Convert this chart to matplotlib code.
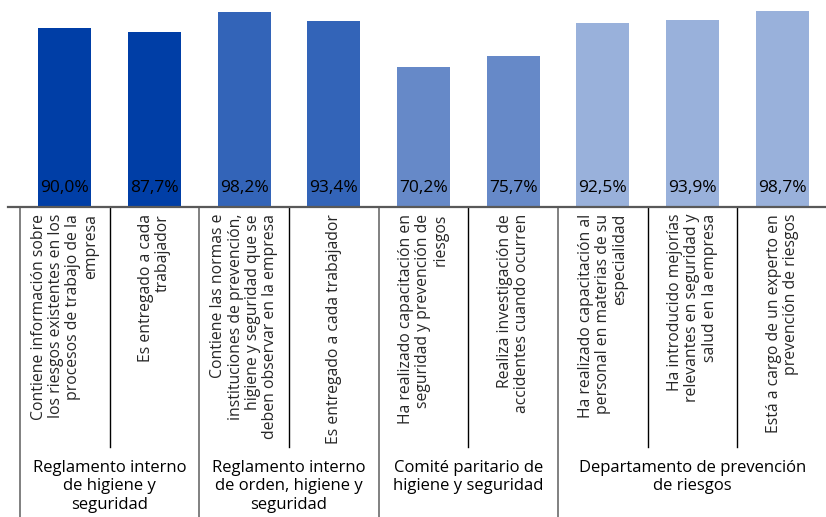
import matplotlib.pyplot as plt

# data
labels = [
    "Contiene información sobre\nlos riesgos existentes en los\nprocesos de trabajo de la\nempresa",
    "Es entregado a cada\ntrabajador",
    "Contiene las normas e\ninstituciones de prevención,\nhigiene y seguridad que se\ndeben observar en la empresa",
    "Es entregado a cada trabajador",
    "Ha realizado capacitación en\nseguridad y prevención de\nriesgos",
    "Realiza investigación de\naccidentes cuando ocurren",
    "Ha realizado capacitación al\npersonal en materias de su\nespecialidad",
    "Ha introducido mejorías\nrelevantes en seguridad y\nsalud en la empresa",
    "Está a cargo de un experto en\nprevención de riesgos",
]
values = [90.0, 87.7, 98.2, 93.4, 70.2, 75.7, 92.5, 93.9, 98.7]
groups = [
    "Reglamento interno\nde higiene y\nseguridad",
    "Reglamento interno\nde orden, higiene y\nseguridad",
    "Comité paritario de\nhigiene y seguridad",
    "Departamento de prevención\nde riesgos",
]
group_sizes = [2, 2, 2, 3]
group_colors = ["#003EA6", "#3364B8", "#6689C8", "#99B1DB"]

plt.rcParams['font.family'] = ['Open Sans', 'DejaVu Sans']

W, H = 826, 517
fig = plt.figure(figsize=(W / 100, H / 100), dpi=100)
# plot area in pixels: x 20..827, y 8..207
ax = fig.add_axes([20 / W, (H - 207) / H, 807 / W, 199 / H])

colors = []
for c, n in zip(group_colors, group_sizes):
    colors += [c] * n

x = list(range(len(values)))
ax.bar(x, values, width=0.59, color=colors, zorder=2)
ax.set_xlim(-0.5, len(values) - 0.5)
ax.set_ylim(0, 100)
ax.axis('off')

# value labels inside bars
for i, v in enumerate(values):
    ax.annotate(f"{v:.1f}%".replace('.', ','), xy=(i, 0), xytext=(0, 11),
                textcoords='offset points', ha='center', va='baseline',
                fontsize=12.5, color='black', zorder=3)

# axis line
ax.plot([-12 / 807, 1], [0, 0], transform=ax.transAxes, color='#595959',
        lw=1.6, clip_on=False, zorder=4)

trans = ax.get_xaxis_transform()
inner_len = (447 - 207) / 199
outer_len = (517 - 207) / 199 + 0.05

# separators
bounds = [-0.5]
for n in group_sizes:
    bounds.append(bounds[-1] + n)
for b in bounds[:-1]:
    ax.plot([b, b], [0, -outer_len], transform=trans, color='#808080',
            lw=1.4, clip_on=False)
k = 0
for n in group_sizes:
    for j in range(1, n):
        b = k + j - 0.5
        ax.plot([b, b], [0, -inner_len], transform=trans, color='black',
                lw=1.0, clip_on=False)
    k += n

# category labels
for i, lab in enumerate(labels):
    ax.annotate(lab, xy=(i, 0), xycoords=trans, xytext=(0, -5),
                textcoords='offset points', rotation=90, ha='center', va='top',
                multialignment='right', fontsize=11.3, color='#262626',
                linespacing=1.1)

# group labels
start = 0
for g, n in zip(groups, group_sizes):
    center = start + (n - 1) / 2
    ax.annotate(g, xy=(center, 0), xycoords=trans, xytext=(0, -182),
                textcoords='offset points', ha='center', va='top',
                multialignment='center', fontsize=12, color='black',
                linespacing=1.2)
    start += n

fig.savefig('out.png', dpi=100)
